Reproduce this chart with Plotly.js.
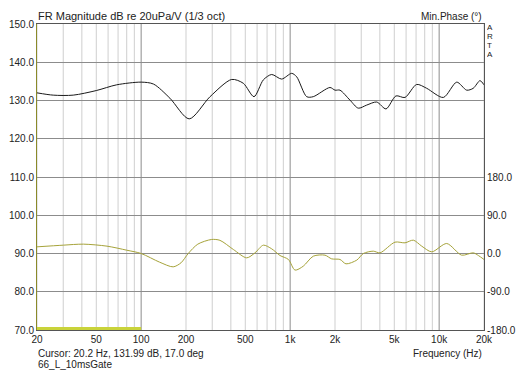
<!DOCTYPE html>
<html>
<head>
<meta charset="utf-8">
<script src="https://cdn.plot.ly/plotly-3.0.1.min.js"></script>
<style>html,body{margin:0;padding:0;background:#fff;}#chart{width:521px;height:373px;}</style>
</head>
<body>
<div id="chart"></div>
<script>
// Magnitude (dB re 20uPa/V, 1/3 oct)
const magFreq = [20, 25.7, 35, 50, 68.5, 100, 121, 156, 210, 290, 405, 485, 572, 661, 752, 877, 1024, 1106, 1291, 1430, 1850, 2000, 2160, 2520, 2865, 3264, 3810, 4400, 5130, 5900, 7060, 8240, 10670, 13120, 15300, 16950, 18800, 20000];
const magDb = [132.0, 131.4, 131.4, 132.6, 134.1, 134.8, 134.3, 130.6, 125.2, 131.0, 135.5, 134.5, 131.0, 135.4, 136.8, 135.6, 137.1, 136.2, 131.0, 131.0, 133.4, 132.7, 132.7, 130.1, 128.0, 128.8, 129.6, 127.8, 131.2, 130.8, 134.2, 133.2, 130.8, 134.8, 132.7, 133.2, 135.2, 134.1];
// Minimum phase (deg)
const phFreq = [20, 30, 41, 59, 80, 100, 133, 164, 185, 207, 240, 297, 338, 416, 511, 581, 661, 752, 855, 973, 1078, 1225, 1430, 1713, 1900, 2160, 2370, 2800, 3100, 3614, 4010, 5056, 5900, 6710, 7640, 8920, 11240, 14160, 16950, 18330, 20000];
const phDeg = [15.7, 19.6, 22.0, 17.3, 7.8, 0.0, -20.4, -31.4, -22.0, 0.0, 22.0, 33.0, 31.0, 9.4, -10.2, 1.6, 19.6, 11.0, -4.7, -14.0, -39.0, -29.8, -6.3, -3.9, -12.6, -14.0, -24.3, -15.6, 0.0, 5.5, 1.6, 26.7, 25.1, 31.4, 17.3, 3.9, 23.5, -3.9, 1.6, -4.7, -14.0];
// Cursor range bar
const barFreq = [20, 100];
const barLevel = [70.4, 70.4];
// Axis ticks
const xTickVals = [20, 50, 100, 200, 500, 1000, 2000, 5000, 10000, 20000];
const xTickText = ["20", "50", "100", "200", "500", "1k", "2k", "5k", "10k", "20k"];
const phTickVals = [-180, -90, 0, 90, 180];
const phTickText = ["-180.0", "-90.0", "0.0", "90.0", "180.0"];
const gridMinor = [20,30,40,50,60,70,80,90,200,300,400,500,600,700,800,900,2000,3000,4000,5000,6000,7000,8000,9000,20000];
const gridMajor = [100, 1000, 10000];

const FONT = "Liberation Sans, Arial, sans-serif";
const shapes = [];
gridMinor.forEach(f => shapes.push({type:'line', xref:'x', yref:'paper', x0:f, x1:f, y0:0, y1:1, layer:'below', line:{color:'#cfcfcf', width:1}}));
gridMajor.forEach(f => shapes.push({type:'line', xref:'x', yref:'paper', x0:f, x1:f, y0:0, y1:1, layer:'below', line:{color:'#8c8c8c', width:1}}));

const traces = [
  {x: magFreq, y: magDb, type:'scatter', mode:'lines', line:{color:'#1a1a1a', width:1, shape:'spline', smoothing:0.8}, yaxis:'y', hoverinfo:'skip'},
  {x: phFreq, y: phDeg, type:'scatter', mode:'lines', line:{color:'#a6a33a', width:1, shape:'spline', smoothing:0.8}, yaxis:'y2', hoverinfo:'skip'},
  {x: barFreq, y: barLevel, type:'scatter', mode:'lines', line:{color:'#c9d33a', width:3}, yaxis:'y', cliponaxis:false, hoverinfo:'skip'}
];

const ann = (text, x, y, xa, extra) => Object.assign({text, x, y, xref:'paper', yref:'paper', xanchor:xa, yanchor:'middle', showarrow:false, font:{family:FONT, size:10, color:'#222'}}, extra||{});
const small = {font:{family:FONT, size:8, color:'#222'}, borderpad:0, height:9};

const layout = {
  width: 521, height: 373,
  margin: {l:37, r:37, t:24, b:43, pad:0},
  paper_bgcolor:'#fff', plot_bgcolor:'#fff',
  showlegend:false,
  font:{family:FONT, size:10, color:'#222'},
  xaxis:{type:'log', range:[Math.log10(20), Math.log10(20000)], tickvals:xTickVals, ticktext:xTickText, showgrid:false, zeroline:false, showline:true, mirror:true, linecolor:'#555', linewidth:1, ticks:'', tickfont:{family:FONT, size:10, color:'#222'}},
  yaxis:{range:[70,150], dtick:10, tick0:70, tickformat:'.1f', showgrid:true, gridcolor:'#8c8c8c', gridwidth:1, zeroline:false, showline:true, linecolor:'#8a8a2a', linewidth:1, ticks:'', tickfont:{family:FONT, size:10, color:'#222'}},
  yaxis2:{overlaying:'y', side:'right', range:[-180,540], tickvals:phTickVals, ticktext:phTickText, showgrid:false, zeroline:false, showline:true, linecolor:'#555', linewidth:1, ticks:'', tickfont:{family:FONT, size:10, color:'#222'}},
  shapes: shapes,
  annotations: [
    ann('FR Magnitude dB re 20uPa/V (1/3 oct)', -0.002, 1.026, 'left', {font:{family:FONT, size:11, color:'#222'}}),
    ann('Min.Phase (°)', 1.0, 1.024, 'right'),
    ann('A', 1.0134, 0.990, 'center', small),
    ann('R', 1.0134, 0.960, 'center', small),
    ann('T', 1.0134, 0.930, 'center', small),
    ann('A', 1.0134, 0.900, 'center', small),
    ann('Cursor: 20.2 Hz, 131.99 dB, 17.0 deg', -0.002, -0.078, 'left'),
    ann('66_L_10msGate', -0.002, -0.114, 'left'),
    ann('Frequency (Hz)', 1.0, -0.078, 'right')
  ]
};

Plotly.newPlot('chart', traces, layout, {staticPlot:true, displayModeBar:false});
</script>
</body>
</html>
